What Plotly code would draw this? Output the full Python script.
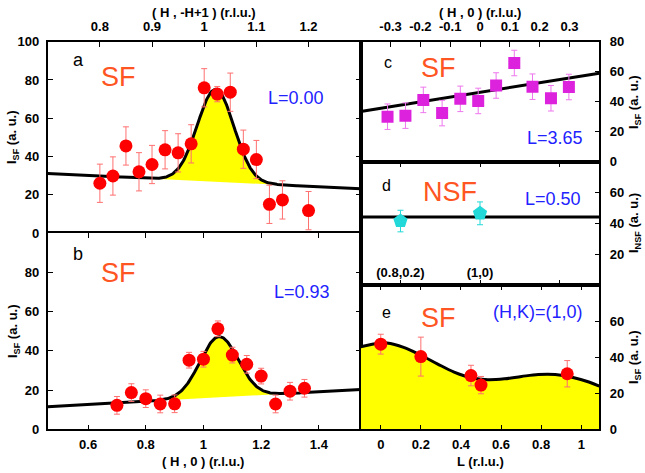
import numpy as np
import plotly.graph_objects as go

# ---------------- data ----------------
# panel a : (H, -H+1) scan, L = 0.00
a_h = [0.800, 0.825, 0.850, 0.875, 0.900, 0.925, 0.950, 0.975, 1.000, 1.025, 1.050, 1.075, 1.100, 1.125, 1.150, 1.200]
a_i = [26.0, 29.8, 45.5, 32.0, 35.8, 43.5, 41.9, 46.6, 75.9, 72.6, 73.6, 43.8, 38.4, 15.0, 17.3, 11.7]
a_err = [10, 10, 10, 10, 10, 10, 10, 10, 10, 4, 10, 10, 10, 10, 10, 10]
# fit (gaussian on sloping background) parameters for panel a
a_bg0, a_bg_x0, a_slope = 31.1, 0.70, -13.3
a_amp, a_cen, a_sig = 48.3, 1.022, 0.035
a_fill_lo, a_fill_hi = 0.903, 1.141

# panel b : (H, 0) scan, L = 0.93
b_h = [0.70, 0.75, 0.80, 0.85, 0.90, 0.95, 1.00, 1.05, 1.10, 1.15, 1.20, 1.25, 1.30, 1.35]
b_i = [12.2, 18.7, 15.6, 12.9, 13.0, 35.2, 35.7, 51.2, 37.8, 33.1, 27.1, 12.9, 19.4, 20.9]
b_err = [4.5, 4.5, 4.5, 4.5, 4.5, 4, 4, 4, 4, 4.5, 4, 4.5, 4.5, 4.5]
b_bg0, b_bg_x0, b_slope = 11.5, 0.463, 8.1
b_amp, b_cen, b_sig = 30.9, 1.054, 0.066
b_fill_lo, b_fill_hi = 0.88, 1.25

# panel c : (H, 0) scan, L = 3.65
c_h = [-0.310, -0.250, -0.190, -0.127, -0.066, -0.006, 0.054, 0.115, 0.176, 0.238, 0.298]
c_i = [30.0, 30.7, 41.2, 32.4, 41.9, 40.5, 50.8, 65.8, 50.0, 42.3, 49.8]
c_err = [8.5] * 11
c_line_h = [-0.4, 0.4]
c_line_i = [33.5, 59.0]

# panel d : NSF, L = 0.50
d_pos = [1, 2]
d_i = [41.5, 46.5]
d_err = [7.0, 7.4]
d_level = 44.2
d_ticks = [1, 2, 3]
d_labels = ["(0.8,0.2)", "(1,0)", " "]

# panel e : L scan at (H,K) = (1,0)
e_l = [0.0, 0.2, 0.45, 0.5, 0.93]
e_i = [47.2, 40.3, 29.8, 24.5, 30.8]
e_err = [5.5, 10.8, 5.7, 4.8, 7.3]
e_curve_l = [-0.10, 0.0, 0.03, 0.114, 0.198, 0.282, 0.366, 0.45, 0.534, 0.618, 0.702, 0.786, 0.87, 0.954, 1.038, 1.09]
e_curve_i = [45.8, 47.8, 47.8, 45.4, 41.2, 36.3, 31.7, 28.6, 27.5, 28.0, 29.3, 30.4, 30.4, 28.9, 26.2, 23.9]

# tick labels
hk_top_vals = [0.8, 0.9, 1.0, 1.1, 1.2]
hk_top_text = ["0.8", "0.9", "1", "1.1", "1.2"]
h0_vals = [0.6, 0.8, 1.0, 1.2, 1.4]
h0_text = ["0.6", "0.8", "1", "1.2", "1.4"]
c_vals = [-0.3, -0.2, -0.1, 0.0, 0.1, 0.2, 0.3]
c_text = ["-0.3", "-0.2", "-0.1", "0", "0.1", "0.2", "0.3"]
l_vals = [0, 0.2, 0.4, 0.6, 0.8, 1.0]
l_text = ["0", "0.2", "0.4", "0.6", "0.8", "1"]

# ---------------- style ----------------
FONT = "Liberation Sans, Arial, Helvetica, sans-serif"
RED = "#ff0000"
RED_ERR = "#ff7070"
MAG = "#dd22dd"
MAG_ERR = "#ee77ee"
CYAN = "#22d8d8"
YEL = "#ffff00"
ORANGE = "#ff5522"
BLUE = "#2222ff"
W, H = 645, 473

def px(x):
    return x / W

def py(y):
    return 1 - y / H

XL0, XL1 = px(47.7), px(360.7)
XR0, XR1 = px(360.7), px(599.3)
YA = [py(233), py(41.7)]
YB = [py(429.3), py(233)]
YC = [py(161.7), py(41.7)]
YD = [py(285), py(161.7)]
YE = [py(429.3), py(285)]

tickfont = dict(family=FONT, size=13, color="black", weight="bold")
common = dict(showgrid=False, zeroline=False, showline=True, linecolor="black", linewidth=1.6,
              ticks="inside", ticklen=5, tickwidth=1, tickcolor="black", tickfont=tickfont,
              automargin=False, fixedrange=True)

fig = go.Figure()

def errbar(vals, color):
    return dict(type="data", array=vals, visible=True, color=color, thickness=1, width=3)

# panel a
xa = np.linspace(0.7, 1.3, 400)
bga = a_bg0 + a_slope * (xa - a_bg_x0)
tota = bga + a_amp * np.exp(-(xa - a_cen) ** 2 / (2 * a_sig ** 2))
ma = (xa >= a_fill_lo) & (xa <= a_fill_hi)
fig.add_trace(go.Scatter(x=xa[ma], y=bga[ma], xaxis="x2", yaxis="y", mode="lines",
                         line=dict(width=0, color=YEL), showlegend=False, hoverinfo="skip"))
fig.add_trace(go.Scatter(x=xa[ma], y=tota[ma], xaxis="x2", yaxis="y", mode="lines", fill="tonexty",
                         fillcolor=YEL, line=dict(width=0, color=YEL), showlegend=False, hoverinfo="skip"))
fig.add_trace(go.Scatter(x=xa, y=tota, xaxis="x2", yaxis="y", mode="lines",
                         line=dict(color="black", width=3), showlegend=False))
fig.add_trace(go.Scatter(x=a_h, y=a_i, xaxis="x2", yaxis="y", mode="markers",
                         marker=dict(color=RED, size=13, line=dict(width=0)),
                         error_y=errbar(a_err, RED_ERR), showlegend=False))

# panel b
xb = np.linspace(0.46, 1.545, 400)
bgb = b_bg0 + b_slope * (xb - b_bg_x0)
totb = bgb + b_amp * np.exp(-(xb - b_cen) ** 2 / (2 * b_sig ** 2))
mb = (xb >= b_fill_lo) & (xb <= b_fill_hi)
fig.add_trace(go.Scatter(x=xb[mb], y=bgb[mb], xaxis="x3", yaxis="y3", mode="lines",
                         line=dict(width=0, color=YEL), showlegend=False, hoverinfo="skip"))
fig.add_trace(go.Scatter(x=xb[mb], y=totb[mb], xaxis="x3", yaxis="y3", mode="lines", fill="tonexty",
                         fillcolor=YEL, line=dict(width=0, color=YEL), showlegend=False, hoverinfo="skip"))
fig.add_trace(go.Scatter(x=xb, y=totb, xaxis="x3", yaxis="y3", mode="lines",
                         line=dict(color="black", width=3), showlegend=False))
fig.add_trace(go.Scatter(x=b_h, y=b_i, xaxis="x3", yaxis="y3", mode="markers",
                         marker=dict(color=RED, size=13, line=dict(width=0)),
                         error_y=errbar(b_err, RED_ERR), showlegend=False))

# panel c
fig.add_trace(go.Scatter(x=c_line_h, y=c_line_i, xaxis="x4", yaxis="y4", mode="lines",
                         line=dict(color="black", width=3), showlegend=False))
fig.add_trace(go.Scatter(x=c_h, y=c_i, xaxis="x4", yaxis="y4", mode="markers",
                         marker=dict(color=MAG, size=12, symbol="square", line=dict(width=0)),
                         error_y=errbar(c_err, MAG_ERR), showlegend=False))

# panel d
fig.add_trace(go.Scatter(x=[0.5, 3.5], y=[d_level, d_level], xaxis="x5", yaxis="y5", mode="lines",
                         line=dict(color="black", width=3), showlegend=False))
fig.add_trace(go.Scatter(x=d_pos, y=d_i, xaxis="x5", yaxis="y5", mode="markers",
                         marker=dict(color=CYAN, size=15, symbol="pentagon", line=dict(width=0)),
                         error_y=errbar(d_err, CYAN), showlegend=False))

# panel e
fig.add_trace(go.Scatter(x=e_curve_l, y=e_curve_i, xaxis="x6", yaxis="y6", mode="lines",
                         line=dict(color="black", width=3, shape="spline"), fill="tozeroy",
                         fillcolor=YEL, showlegend=False))
fig.add_trace(go.Scatter(x=e_l, y=e_i, xaxis="x6", yaxis="y6", mode="markers",
                         marker=dict(color=RED, size=13, line=dict(width=0)),
                         error_y=errbar(e_err, RED_ERR), showlegend=False))

layout = dict(
    template="none",
    width=W, height=H, margin=dict(l=0, r=0, t=0, b=0, pad=0),
    paper_bgcolor="white", plot_bgcolor="white", showlegend=False,
    xaxis=dict(common, domain=[XL0, XL1], anchor="y", range=[0.46, 1.545],
               tickmode="array", tickvals=h0_vals, showticklabels=False, mirror=False),
    xaxis2=dict(common, domain=[XL0, XL1], overlaying="x", side="top", anchor="y", range=[0.7, 1.3],
                tickmode="array", tickvals=hk_top_vals, ticktext=hk_top_text, ticklabelstandoff=4),
    yaxis=dict(common, domain=YA, anchor="x", range=[0, 100], mirror="ticks",
               tickmode="array", tickvals=[0, 20, 40, 60, 80, 100], ticktext=["0", "20", "40", "60", "80", "100"],
               ticklabelstandoff=4),
    xaxis3=dict(common, domain=[XL0, XL1], anchor="y3", range=[0.46, 1.545], mirror="ticks",
                tickmode="array", tickvals=h0_vals, ticktext=h0_text, ticklabelstandoff=2),
    yaxis3=dict(common, domain=YB, anchor="x3", range=[0, 100], mirror="ticks",
                tickmode="array", tickvals=[0, 20, 40, 60, 80], ticktext=["0", "20", "40", "60", "80"],
                ticklabelstandoff=4),
    xaxis4=dict(common, domain=[XR0, XR1], anchor="y4", side="top", range=[-0.4, 0.4], mirror=True,
                tickmode="array", tickvals=c_vals, ticktext=c_text, ticklabelstandoff=4),
    yaxis4=dict(common, domain=YC, anchor="x4", side="right", range=[0, 80], mirror=True,
                tickmode="array", tickvals=[0, 20, 40, 60, 80], ticktext=["0", "20", "40", "60", "80"],
                ticklabelstandoff=6),
    xaxis5=dict(common, domain=[XR0, XR1], anchor="y5", range=[0.5, 3.5], mirror="ticks",
                tickmode="array", tickvals=d_ticks, ticktext=d_labels, ticklabelposition="inside"),
    yaxis5=dict(common, domain=YD, anchor="x5", side="right", range=[0, 80], mirror=True,
                tickmode="array", tickvals=[0, 20, 40, 60], ticktext=["0", "20", "40", "60"],
                ticklabelstandoff=6),
    xaxis6=dict(common, domain=[XR0, XR1], anchor="y6", range=[-0.1, 1.09], mirror="ticks",
                tickmode="array", tickvals=l_vals, ticktext=l_text, ticklabelstandoff=2),
    yaxis6=dict(common, domain=YE, anchor="x6", side="right", range=[0, 80], mirror=True,
                tickmode="array", tickvals=[0, 20, 40, 60], ticktext=["0", "20", "40", "60"],
                ticklabelstandoff=6),
)
fig.update_layout(**layout)

titlefont = dict(family=FONT, size=13, color="black", weight="bold")
ann = []
def add_text(text, x, y, font, angle=0, xanchor="center"):
    ann.append(dict(text=text, x=px(x), y=py(y), xref="paper", yref="paper", showarrow=False,
                    font=font, textangle=angle, xanchor=xanchor, yanchor="middle"))

# axis titles
add_text("( H , -H+1 ) (r.l.u.)", 204, 13, titlefont)
add_text("( H , 0 ) (r.l.u.)", 480, 13, titlefont)
add_text("( H , 0 ) (r.l.u.)", 203, 461, titlefont)
add_text("L (r.l.u.)", 481, 461, titlefont)
add_text("I<sub>SF</sub> (a. u.)", 13, 137, titlefont, angle=-90)
add_text("I<sub>SF</sub> (a. u.)", 13, 331, titlefont, angle=-90)
add_text("I<sub>SF</sub> (a. u.)", 634, 102, titlefont, angle=-90)
add_text("I<sub>NSF</sub> (a. u.)", 634, 223, titlefont, angle=-90)
add_text("I<sub>SF</sub> (a. u.)", 634, 357, titlefont, angle=-90)

# panel letters and labels
letter_big = dict(family=FONT, size=18, color="black")
letter_small = dict(family=FONT, size=16, color="black")
sf = dict(family=FONT, size=27, color=ORANGE)
lab = dict(family=FONT, size=18, color=BLUE)
add_text("a", 78, 60, letter_big)
add_text("b", 78, 254, letter_big)
add_text("c", 388, 63, letter_small)
add_text("d", 386, 185, letter_small)
add_text("e", 386, 312, letter_small)
add_text("SF", 118, 77, sf)
add_text("SF", 118, 273, sf)
add_text("SF", 438, 68, sf)
add_text("NSF", 450, 192, sf)
add_text("SF", 438, 318, sf)
add_text("L=0.00", 296, 98, lab)
add_text("L=0.93", 302, 292, lab)
add_text("L=3.65", 555, 138, lab)
add_text("L=0.50", 553, 199, lab)
add_text("(H,K)=(1,0)", 538, 312, lab)

fig.update_layout(annotations=ann)
fig.write_html("out.html")
